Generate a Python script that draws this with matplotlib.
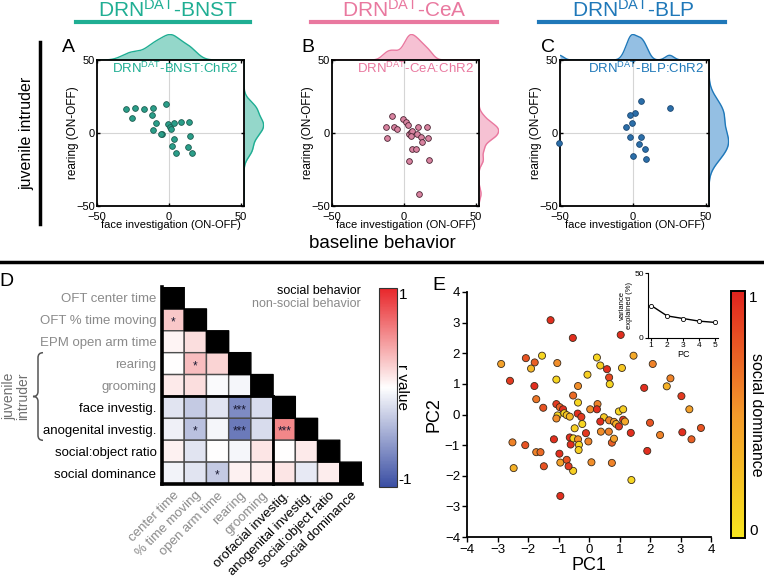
import numpy as np
import matplotlib
matplotlib.use('Agg')
import matplotlib.pyplot as plt
from matplotlib.colors import LinearSegmentedColormap, ListedColormap
from matplotlib.lines import Line2D
from matplotlib.path import Path
from matplotlib.patches import PathPatch

plt.rcParams['font.family'] = ['Liberation Sans', 'DejaVu Sans']
plt.rcParams['mathtext.fontset'] = 'custom'
plt.rcParams['mathtext.rm'] = 'Liberation Sans'
plt.rcParams['mathtext.it'] = 'Liberation Sans:italic'
plt.rcParams['mathtext.bf'] = 'Liberation Sans:bold'

# ---------------- data ----------------
bnst_face = [-30.2, -23.3, -17.4, -11.2, -25.6, -11.9, -1.9, -8.8, -11.2, -5.1, -5.6, -0.9,
             0.9, 1.4, 3.5, 8.1, 13.5, 3.3, 1.9, 4.9, 13.0, 14.2, 15.8]
bnst_rear = [16.5, 17.2, 16.2, 17.2, 10.5, 12.1, 20.1, 7.1, 1.8, -0.7, -0.5, 5.9,
             3.9, 2.7, 7.1, 7.3, 7.6, -3.9, -9.2, -13.5, -9.6, -2.1, -13.5]

cea_face = [-8.6, -12.4, -12.1, -6.7, -4.8, -0.5, 1.2, 2.4, 3.1, 4.5, 5.5, 4.5,
            9.8, 8.8, 11.7, 12.4, 16.2, 16.4, 5.5, 8.3, 3.3, 17.6, 10.2]
cea_rear = [11.7, 4.1, -3.4, 3.9, 2.5, 9.4, 7.8, 5.7, -0.9, 0.5, 1.6, -2.1,
            3.9, -0.5, -2.7, -6.2, 3.9, -3.7, -11.2, -11.0, -19.0, -18.3, -41.6]

blp_face = [5.2, 25.0, 1.6, -2.0, -0.9, -5.0, -2.0, 5.2, 3.9, 8.0, -0.2, 9.1, -50.5]
blp_rear = [22.2, 17.4, 13.5, 12.1, 6.6, 4.1, -2.7, -3.0, -7.3, -10.8, -15.6, -17.6, -6.6]

row_labels = ['OFT center time', 'OFT % time moving', 'EPM open arm time', 'rearing',
              'grooming', 'face investig.', 'anogenital investig.', 'social:object ratio',
              'social dominance']
col_labels = ['center time', '% time moving', 'open arm time', 'rearing', 'grooming',
              'orofacial investig.', 'anogenital investig.', 'social:object ratio',
              'social dominance']
social_flags = [False, False, False, False, False, True, True, True, True]

r_rows = [
    [],
    [0.25],
    [0.05, 0.15],
    [0.0, 0.3, 0.2],
    [0.1, 0.15, -0.03, -0.05],
    [-0.15, -0.3, -0.15, -0.65, -0.2],
    [-0.08, -0.35, -0.05, -0.75, -0.2, 0.55],
    [0.07, -0.15, 0.0, -0.05, 0.12, 0.0, 0.1],
    [-0.07, -0.15, -0.3, 0.07, 0.08, 0.12, -0.12, 0.08],
]
star_rows = [
    [],
    ['*'],
    ['', ''],
    ['', '*', ''],
    ['', '', '', ''],
    ['', '', '', '***', ''],
    ['', '*', '', '***', '', '***'],
    ['', '', '', '', '', '', ''],
    ['', '', '*', '', '', '', '', ''],
]

pc1 = [-1.26, -0.53, 1.04, -2.88, -2.07, -1.78, -1.54, -1.90, -1.04, -2.59, -1.79, -1.07,
       0.26, 0.37, 1.46, 1.08, 0.59, -0.05, 0.66, 0.68, -0.36, 2.09, 2.67, 2.55, 1.81, 3.03,
       -1.73, -0.52, -0.36, -1.50, -1.07, -0.96, -0.85, -1.03, -1.07, -0.81, -0.73, -0.63,
       -0.37, -0.25, -0.22, -0.47, 0.04, 0.28, 0.26, 0.49, 0.37, 0.66, 0.82, 0.89, 0.98,
       0.98, 1.12, 1.12, 1.18, 0.65, 0.39, 0.75, 0.82, -0.10, -0.02, 1.37, 2.00, 2.33, 3.06,
       3.29, 3.67, 3.36, 1.91, 0.75, 1.39, 0.08, -0.52, -0.94, -0.73, -0.67, -0.97, -1.48,
       -1.73, -1.59, -2.09, -2.51, -2.47, -1.15, -0.63, -0.60, -0.51, -0.36, -0.33, -0.34, -0.94]
pc2 = [3.08, 2.50, 2.60, 1.65, 1.84, 1.70, 1.92, 1.50, 1.68, 1.10, 0.93, 1.14,
       1.86, 1.60, 1.92, 1.52, 1.48, 1.30, 1.21, 0.99, 0.93, 1.65, 1.18, 0.92, 0.87, 0.60,
       0.50, 0.62, 0.39, 0.22, 0.34, 0.24, 0.17, -0.03, -0.13, 0.04, -0.02, -0.07,
       0.03, -0.08, -0.31, -0.45, 0.17, 0.34, 0.17, -0.09, -0.23, -0.19, -0.24, -0.31, -0.39,
       0.10, 0.17, -0.17, -0.23, -0.56, -0.56, -0.92, -0.79, -0.61, -0.88, -0.60, -0.27, -0.67, -0.58,
       0.17, -0.44, -0.81, -1.19, -1.58, -2.14, -1.56, -1.84, -1.57, -1.48, -1.69, -1.28, -1.69,
       -1.23, -1.23, -1.00, -0.91, -1.75, -0.81, -0.75, -0.98, -0.78, -0.81, -0.99, -1.16, -2.66]
dominance = [0.95, 0.95, 0.95, 0.45, 0.8, 0.75, 0.1, 0.3, 0.55, 0.9, 0.95, 0.1,
             0.1, 0.15, 0.4, 0.2, 0.95, 0.15, 0.85, 0.1, 0.55, 0.6, 0.6, 0.35, 0.95, 0.9,
             0.65, 0.7, 0.1, 0.8, 0.9, 0.75, 0.95, 0.1, 0.55, 0.1, 0.2, 0.3,
             0.95, 0.9, 0.1, 0.15, 0.55, 0.6, 0.95, 0.2, 0.95, 0.6, 0.5, 0.35, 0.9,
             0.1, 0.15, 0.9, 0.4, 0.6, 0.55, 0.75, 0.45, 0.9, 0.6, 0.95, 0.8, 0.6, 0.95,
             0.45, 0.8, 0.75, 0.95, 0.6, 0.1, 0.55, 0.15, 0.45, 0.8, 0.9, 0.95, 0.8,
             0.6, 0.7, 0.8, 0.6, 0.35, 0.95, 0.95, 0.95, 0.1, 0.55, 0.1, 0.15, 0.95]

pcs = [1, 2, 3, 4, 5]
var_explained = [25, 17, 15, 13, 12]

# ---------------- figure helpers ----------------
W, H = 764, 577
fig = plt.figure(figsize=(W / 100, H / 100), dpi=100)


def px_axes(l, t, r, b, **kw):
    return fig.add_axes([l / W, 1 - b / H, (r - l) / W, (b - t) / H], **kw)


def fy(y):
    return 1 - y / H


def fx(x):
    return x / W


def kde(data, grid):
    d = np.asarray(data, float)
    n = len(d)
    sd = np.std(d, ddof=1)
    iqr = np.subtract(*np.percentile(d, [75, 25]))
    bw = 0.9 * min(sd, iqr / 1.34) * n ** -0.2
    z = (grid[:, None] - d[None, :]) / bw
    return np.exp(-0.5 * z ** 2).sum(axis=1) / (n * bw * np.sqrt(2 * np.pi))


XL = (-50, 52)
YL = (-50, 50)


def top_panel(l, r, face, rear, col, fill, edge, ptcol, title, inner, letter, letx, titlex, bar):
    # marginals
    gx = np.linspace(XL[0], XL[1], 400)
    dx = kde(face, gx)
    axt = px_axes(l, 34, r, 60)
    axt.fill_between(gx, dx, color=fill, alpha=0.55, lw=0)
    axt.plot(gx, dx, color=col, lw=1)
    axt.set_xlim(*XL)
    axt.set_ylim(0, dx.max() * 1.02)
    axt.axis('off')

    gy = np.linspace(YL[0], YL[1], 400)
    dy = kde(rear, gy)
    axr = px_axes(r, 60, r + 20, 206)
    axr.fill_betweenx(gy, dy, color=fill, alpha=0.55, lw=0)
    axr.plot(dy, gy, color=col, lw=1)
    axr.set_ylim(*YL)
    axr.set_xlim(0, dy.max() * 1.02)
    axr.axis('off')

    ax = px_axes(l, 60, r, 206)
    ax.set_zorder(3)
    ax.patch.set_alpha(0)
    ax.axhline(0, color='#d5d5d5', lw=0.8, zorder=1)
    ax.axvline(0, color='#d5d5d5', lw=0.8, zorder=1)
    ax.scatter(face, rear, s=17, c=ptcol, edgecolors=edge, linewidths=0.6, zorder=3, clip_on=False)
    ax.set_xlim(*XL)
    ax.set_ylim(*YL)
    ax.set_xticks([-50, 0, 50])
    ax.set_yticks([-50, 0, 50])
    ax.tick_params(direction='in', length=2.5, width=1, labelsize=8, pad=1.5,
                   top=True, right=True)
    ax.tick_params(axis='x', pad=4)
    for s in ax.spines.values():
        s.set_linewidth(1.3)
    ax.set_xlabel('face investigation (ON-OFF)', fontsize=8, labelpad=-1)
    ax.set_ylabel('rearing (ON-OFF)', fontsize=8.5, labelpad=-2)
    ax.text(0.965, 0.945, inner, transform=ax.transAxes, ha='right', va='center',
            fontsize=9.5, color=col)
    fig.text(fx(letx), fy(48), letter, fontsize=14, ha='center', va='center')
    fig.text(fx(titlex), fy(17), title, fontsize=15, ha='center', va='baseline', color=col)
    fig.add_artist(Line2D([fx(bar[0]), fx(bar[1])], [fy(22), fy(22)], color=col, lw=3,
                          transform=fig.transFigure))


teal, pink, blue = '#1fae93', '#e9789f', '#1f78b9'
top_panel(97, 244, bnst_face, bnst_rear, teal, '#3cb69f', '#1d5c50', '#2a9e89',
          r'DRN$^{\mathregular{DAT}}$-BNST', r'DRN$^{\mathregular{DAT}}$-BNST:ChR2',
          'A', 68, 168, (76, 250))
top_panel(332, 479, cea_face, cea_rear, pink, '#f08fb0', '#4a2533', '#d883a0',
          r'DRN$^{\mathregular{DAT}}$-CeA', r'DRN$^{\mathregular{DAT}}$-CeA:ChR2',
          'B', 308, 404, (311, 497))
top_panel(560, 709, blp_face, blp_rear, blue, '#3d8ccc', '#1c4670', '#2b6ea9',
          r'DRN$^{\mathregular{DAT}}$-BLP', r'DRN$^{\mathregular{DAT}}$-BLP:ChR2',
          'C', 548, 633, (539, 725))

# left "juvenile intruder" line and label
fig.add_artist(Line2D([fx(40), fx(40)], [fy(42), fy(224)], color='k', lw=2.5,
                      transform=fig.transFigure))
fig.text(fx(27), fy(133), 'juvenile intruder', rotation=90, fontsize=11.5,
         ha='center', va='center')

# separator
fig.text(fx(382), fy(244), 'baseline behavior', fontsize=13.5, ha='center', va='center')
fig.add_artist(Line2D([0, 1], [fy(262), fy(262)], color='k', lw=2.5, transform=fig.transFigure))

# ---------------- panel D ----------------
cmap_r = LinearSegmentedColormap.from_list('rv', ['#3a4ea3', '#ffffff', '#e8262a'])
n = len(row_labels)
M = np.full((n, n), np.nan)
for i, row in enumerate(r_rows):
    M[i, :len(row)] = row
Dg = np.full((n, n), np.nan)
for i in range(n):
    Dg[i, i] = 1

axd = px_axes(162, 287, 362, 484)
mesh = axd.pcolor(np.arange(n + 1), np.arange(n + 1), np.ma.masked_invalid(M), cmap=cmap_r,
                  vmin=-1, vmax=1, edgecolors='#4d4d4d', linewidth=1)
axd.pcolor(np.arange(n + 1), np.arange(n + 1), np.ma.masked_invalid(Dg),
           cmap=ListedColormap(['black']), edgecolors='black', linewidth=1)
axd.set_xlim(0, n)
axd.set_ylim(n, 0)
for s in axd.spines.values():
    s.set_visible(False)
for i, row in enumerate(star_rows):
    for j, st in enumerate(row):
        if st:
            axd.text(j + 0.5, i + 0.62, st, ha='center', va='center', fontsize=8.5, color='#1a1a33')
kw = dict(color='k', solid_capstyle='projecting', clip_on=False)
axd.plot([0, 0], [0, n], lw=2.6, **kw)
axd.plot([0, n], [n, n], lw=2.6, **kw)
axd.plot([0, 5], [5, 5], lw=2.0, **kw)
axd.plot([5, 5], [5, n], lw=2.0, **kw)
axd.set_xticks(np.arange(n) + 0.5)
axd.set_xticklabels(col_labels, rotation=45, ha='right', rotation_mode='anchor', fontsize=9.5)
axd.set_yticks(np.arange(n) + 0.5)
axd.set_yticklabels(row_labels, fontsize=9.5)
axd.tick_params(length=0, pad=4)
for lab, soc in zip(axd.get_xticklabels(), social_flags):
    lab.set_color('black' if soc else '#8a8a8a')
for lab, soc in zip(axd.get_yticklabels(), social_flags):
    lab.set_color('black' if soc else '#8a8a8a')

fig.text(fx(361), fy(291), 'social behavior', fontsize=9, ha='right', va='center', color='k')
fig.text(fx(361), fy(304), 'non-social behavior', fontsize=9, ha='right', va='center', color='#8a8a8a')
fig.text(fx(6), fy(281), 'D', fontsize=14, ha='center', va='center')

# curly brace for juvenile intruder
xr, xl = 43, 33
xm = (xr + xl) / 2
yt, yb = 287 + 3 * 21.9, 287 + 7 * 21.9
ym = (yt + yb) / 2
d = 5
verts_px = [(xr, yt), (xm, yt), (xm, yt + d), (xm, ym - d), (xm, ym), (xl, ym),
            (xm, ym), (xm, ym + d), (xm, yb - d), (xm, yb), (xr, yb)]
codes = [Path.MOVETO, Path.CURVE3, Path.CURVE3, Path.LINETO, Path.CURVE3, Path.CURVE3,
         Path.CURVE3, Path.CURVE3, Path.LINETO, Path.CURVE3, Path.CURVE3]
verts = [(fx(x), fy(y)) for x, y in verts_px]
fig.add_artist(PathPatch(Path(verts, codes), fill=False, edgecolor='#555555', lw=1.1,
                         transform=fig.transFigure))
fig.text(fx(16), fy(ym), 'juvenile\nintruder', rotation=90, fontsize=10, ha='center',
         va='center', color='#707070', linespacing=1.0)

caxd = px_axes(379, 288, 397, 487)
cb = fig.colorbar(mesh, cax=caxd, ticks=[-1, 1])
cb.ax.set_yticklabels(['-1', '1'])
cb.ax.tick_params(length=0, labelsize=11, pad=1)
tl = cb.ax.get_yticklabels()
tl[0].set_va('bottom')
tl[1].set_va('top')
cb.outline.set_edgecolor('#333333')
cb.outline.set_linewidth(0.8)
caxd.text(1.3, 0.5, 'r value', rotation=270, transform=caxd.transAxes, ha='center',
          va='center', fontsize=11)

# ---------------- panel E ----------------
cmap_d = LinearSegmentedColormap.from_list('dom', ['#f7e51f', '#f39a2b', '#e0231e'])
axe = px_axes(467, 292, 711, 537)
sc = axe.scatter(pc1, pc2, c=dominance, cmap=cmap_d, vmin=0, vmax=1, s=26,
                 edgecolors='#3a2a1a', linewidths=0.6, zorder=3)
axe.set_xlim(-4, 4)
axe.set_ylim(-4, 4)
axe.set_xticks(range(-4, 5))
axe.set_yticks(range(-4, 5))
axe.spines['top'].set_visible(False)
axe.spines['right'].set_visible(False)
for s in ('left', 'bottom'):
    axe.spines[s].set_linewidth(1.3)
axe.tick_params(direction='out', length=3.5, width=1, labelsize=9.5, pad=1.5)
axe.set_xlabel('PC1', fontsize=13, labelpad=1)
axe.set_ylabel('PC2', fontsize=13, labelpad=2)
fig.text(fx(439), fy(285), 'E', fontsize=14, ha='center', va='center')

caxe = px_axes(731, 291, 745, 538)
cbe = fig.colorbar(sc, cax=caxe, ticks=[0, 1])
cbe.ax.set_yticklabels(['0', '1'])
cbe.ax.tick_params(length=0, labelsize=11, pad=3)
tle = cbe.ax.get_yticklabels()
tle[0].set_va('bottom')
tle[1].set_va('top')
cbe.outline.set_edgecolor('black')
cbe.outline.set_linewidth(1.4)
caxe.text(1.85, 0.5, 'social dominance', rotation=270, transform=caxe.transAxes,
          ha='center', va='center', fontsize=11.5)

# inset
axi = px_axes(648, 273, 718, 338)
axi.plot(pcs, var_explained, color='k', lw=1, marker='o', ms=3, mfc='white', mec='k', mew=0.6)
axi.set_xlim(0.8, 5.2)
axi.set_ylim(0, 50)
axi.set_xticks(pcs)
axi.set_yticks([0, 50])
axi.spines['top'].set_visible(False)
axi.spines['right'].set_visible(False)
axi.tick_params(length=2, width=0.8, labelsize=6, pad=1)
axi.set_xlabel('PC', fontsize=6.5, labelpad=0.5)
axi.set_ylabel('variance\nexplained (%)', fontsize=5.5, labelpad=1, linespacing=0.9)

fig.savefig('out.png', dpi=100)
